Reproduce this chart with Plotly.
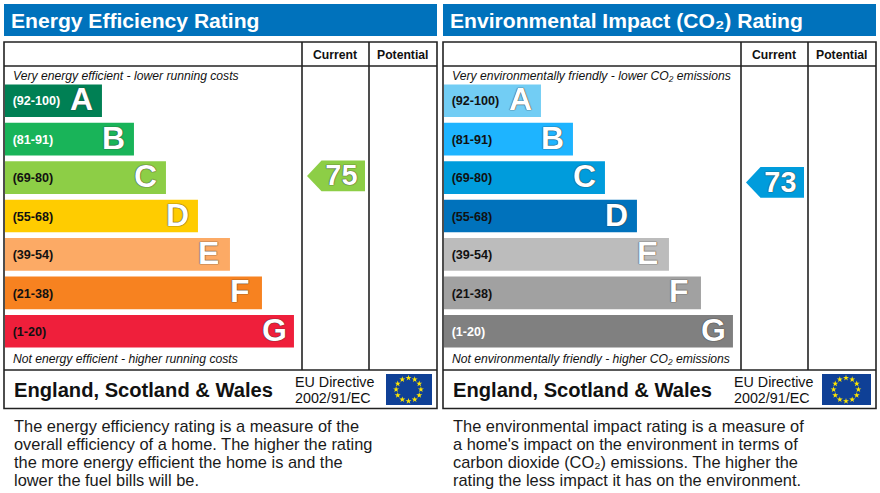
import numpy as np
import plotly.graph_objects as go

# rating bands, shared by both panels
letters = ["A", "B", "C", "D", "E", "F", "G"]
band_ranges = ["(92-100)", "(81-91)", "(69-80)", "(55-68)", "(39-54)", "(21-38)", "(1-20)"]
band_lengths = [3.03, 4.03, 5.03, 6.03, 7.03, 8.03, 9.03]

energy_colors = ["#008054", "#19b459", "#8dce46", "#ffcc00", "#fcaa65", "#f78220", "#ef1f3b"]
energy_label_colors = ["white", "white", "#111", "#111", "#111", "#111", "#111"]
energy_current = 75
energy_band_index = 2
energy_midpoint = 74.5

impact_colors = ["#72cdf4", "#1eb4ff", "#009cdc", "#0072bc", "#bcbcbc", "#a1a1a1", "#808080"]
impact_label_colors = ["#111", "#111", "#111", "#111", "#111", "#111", "white"]
impact_current = 73
impact_band_index = 2
impact_midpoint = 74.5

energy_text = [
    "The energy efficiency rating is a measure of the",
    "overall efficiency of a home. The higher the rating",
    "the more energy efficient the home is and the",
    "lower the fuel bills will be.",
]
impact_text = [
    "The environmental impact rating is a measure of",
    "a home's impact on the environment in terms of",
    "carbon dioxide (CO₂) emissions. The higher the",
    "rating the less impact it has on the environment.",
]

W, H = 880, 493
FONT = "Liberation Sans"
LINE = "#222222"
BLUE = "#0072bc"
OUTLINE = "0 0 1px #333333, 0 0 1px #333333"

fig = go.Figure()
shapes = []
notes = []


def note(x, y, text, size, color="#111", anchor="left"):
    notes.append(dict(x=x, y=y, xref="x", yref="y", text=text, showarrow=False,
                      xanchor=anchor, yanchor="middle", align="left",
                      font=dict(family=FONT, size=size, color=color)))


def panel(left, ax, title, top_text, bottom_text, colors, label_colors, current, band, midpoint,
          text_lines, flag_x, flag_w, star_x):
    """Draws one rating panel. left is the x pixel of the frame, ax the suffix of its bar axes"""
    right = left + 433
    cur_line = left + 298
    pot_line = left + 365

    # chrome, in the page pixel axes
    shapes.append(dict(type="rect", x0=left, x1=right, y0=4, y1=36, xref="x", yref="y",
                       fillcolor=BLUE, line_width=0, layer="below"))
    shapes.append(dict(type="rect", x0=left, x1=right, y0=42, y1=408.5, xref="x", yref="y",
                       line=dict(color=LINE, width=1.6), layer="above"))
    for y in [66, 370]:
        shapes.append(dict(type="line", x0=left, x1=right, y0=y, y1=y, xref="x", yref="y",
                           line=dict(color=LINE, width=1.6), layer="above"))
    for x in [cur_line, pot_line]:
        shapes.append(dict(type="line", x0=x, x1=x, y0=42, y1=370, xref="x", yref="y",
                           line=dict(color=LINE, width=1.6), layer="above"))
    shapes.append(dict(type="rect", x0=flag_x, x1=flag_x + flag_w, y0=374, y1=405, xref="x", yref="y",
                       fillcolor="#0f4096", line_width=0, layer="below"))

    note(left + 5, 20.4, "<b>%s</b>" % title, 21.1, "white")
    note((cur_line + pot_line) / 2 - 1, 54.5, "<b>Current</b>", 12.2, anchor="center")
    note((pot_line + right) / 2 - 1, 54.5, "<b>Potential</b>", 12.2, anchor="center")
    note(left + 7, 76, "<i>%s</i>" % top_text, 12.15)
    note(left + 7, 359, "<i>%s</i>" % bottom_text, 12.15)
    note(left + 8, 390, "<b>England, Scotland &amp; Wales</b>", 20.15)
    note(left + 289, 381.5, "EU Directive", 14.3)
    note(left + 289, 398, "2002/91/EC", 14.3)
    for i, line in enumerate(text_lines):
        note(left + 8, 425.8 + i * 18, line, 16.4, "#1a1a1a")

    # rating bars
    rows = list(range(len(letters)))
    text_rows = [r + 0.04 for r in rows]
    fig.add_trace(go.Bar(x=band_lengths, y=rows, orientation="h", width=0.85,
                         marker=dict(color=colors, line_width=0),
                         xaxis="x" + ax, yaxis="y" + ax, hoverinfo="skip"))
    fig.add_trace(go.Scatter(x=[0.24] * len(rows), y=text_rows, mode="text", text=band_ranges,
                             textposition="middle right",
                             textfont=dict(family=FONT, size=12.6, color=label_colors, weight="bold"),
                             xaxis="x" + ax, yaxis="y" + ax, hoverinfo="skip", cliponaxis=False))
    fig.add_trace(go.Scatter(x=[v - 1.0 for v in band_lengths], y=text_rows, mode="text", text=letters,
                             textposition="middle right",
                             textfont=dict(family=FONT, size=32, color="white", weight="bold",
                                           shadow=OUTLINE),
                             xaxis="x" + ax, yaxis="y" + ax, hoverinfo="skip", cliponaxis=False))

    # current rating arrow, sits in its band according to the score
    arrow_y = band + (midpoint - current) / 12
    tip = cur_line + 5
    fig.add_trace(go.Scatter(
        x=[tip, tip + 14.5, tip + 58, tip + 58, tip + 14.5, tip],
        y=[arrow_y, arrow_y - 0.4, arrow_y - 0.4, arrow_y + 0.4, arrow_y + 0.4, arrow_y],
        mode="lines", fill="toself", fillcolor=colors[band], line_width=0,
        xaxis="x", yaxis="y" + ax, hoverinfo="skip"))
    fig.add_trace(go.Scatter(x=[tip + 34.5], y=[arrow_y + 0.05], mode="text", text=[str(current)],
                             textposition="middle center",
                             textfont=dict(family=FONT, size=29, color="white", weight="bold",
                                           shadow=OUTLINE),
                             xaxis="x", yaxis="y" + ax, hoverinfo="skip", cliponaxis=False))

    # EU stars
    angles = np.arange(12) * np.pi / 6
    fig.add_trace(go.Scatter(x=star_x + 12.4 * np.sin(angles), y=389.5 - 11.6 * np.cos(angles),
                             mode="markers", marker=dict(symbol="star", size=4.5, color="#ffe600", line_width=0),
                             xaxis="x", yaxis="y", hoverinfo="skip"))


panel(4, "2", "Energy Efficiency Rating",
      "Very energy efficient - lower running costs", "Not energy efficient - higher running costs",
      energy_colors, energy_label_colors, energy_current, energy_band_index, energy_midpoint,
      energy_text, 386, 46, 408.5)
panel(443, "3", "Environmental Impact (CO₂) Rating",
      "Very environmentally friendly - lower CO₂ emissions",
      "Not environmentally friendly - higher CO₂ emissions",
      impact_colors, impact_label_colors, impact_current, impact_band_index, impact_midpoint,
      impact_text, 822, 49, 846)

hidden = dict(visible=False, fixedrange=True)
band_domain = [1 - 350.5 / H, 1 - 81.5 / H]
fig.update_layout(
    width=W, height=H, margin=dict(l=0, r=0, t=0, b=0), autosize=False,
    paper_bgcolor="white", plot_bgcolor="rgba(0,0,0,0)", showlegend=False,
    font=dict(family=FONT), shapes=shapes, annotations=notes, barmode="overlay",
    xaxis=dict(range=[0, W], domain=[0, 1], anchor="y", **hidden),
    yaxis=dict(range=[H, 0], domain=[0, 1], anchor="x", **hidden),
    xaxis2=dict(range=[0, 9.25], domain=[5 / W, 301 / W], anchor="y2", **hidden),
    yaxis2=dict(range=[6.5, -0.5], domain=band_domain, anchor="x2", **hidden),
    xaxis3=dict(range=[0, 9.25], domain=[444 / W, 740 / W], anchor="y3", **hidden),
    yaxis3=dict(range=[6.5, -0.5], domain=band_domain, anchor="x3", **hidden),
)

fig.write_html("out.html", config={"displayModeBar": False},
               post_script="document.body.style.margin='0';document.body.style.overflow='hidden';")
